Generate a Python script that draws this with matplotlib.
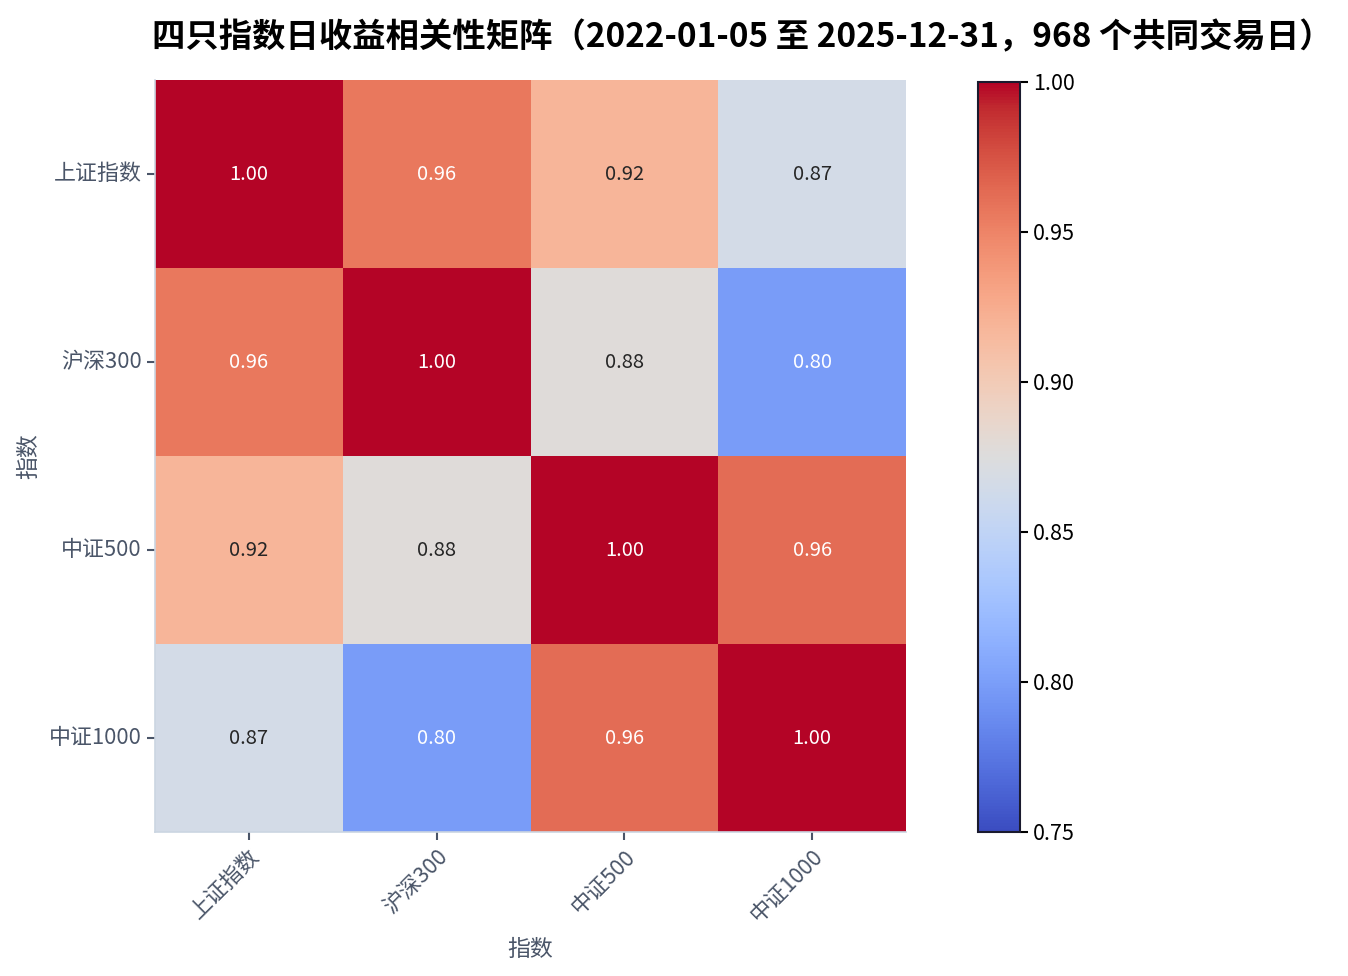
import numpy as np
import matplotlib
matplotlib.use("Agg")
import matplotlib.pyplot as plt
import seaborn as sns

plt.rcParams["font.family"] = ["Noto Sans CJK SC", "DejaVu Sans"]
plt.rcParams["axes.unicode_minus"] = False

names = ["上证指数", "沪深300", "中证500", "中证1000"]
corr = np.array([
    [1.00, 0.957, 0.918, 0.866],
    [0.957, 1.00, 0.877, 0.798],
    [0.918, 0.877, 1.00, 0.962],
    [0.866, 0.798, 0.962, 1.00],
])
title = "四只指数日收益相关性矩阵（2022-01-05 至 2025-12-31，968 个共同交易日）"

fig = plt.figure(figsize=(13.48, 9.76), dpi=100)
ax = fig.add_axes([155 / 1348, 1 - 832 / 976, 751 / 1348, 752 / 976])
cax = fig.add_axes([978 / 1348, 1 - 832 / 976, 42 / 1348, 750 / 976])

sns.heatmap(corr, ax=ax, cbar_ax=cax, cmap="coolwarm", vmin=0.75, vmax=1.0,
            annot=True, fmt=".2f", annot_kws={"size": 14.5},
            xticklabels=names, yticklabels=names)

slate = "#4a5568"
for side in ["left", "bottom"]:
    ax.spines[side].set_visible(True)
    ax.spines[side].set_color("#cbd5e1")
    ax.spines[side].set_linewidth(1.2)
ax.tick_params(axis="both", colors=slate, labelsize=15.8, length=6, width=1.5)
plt.setp(ax.get_xticklabels(), rotation=45, ha="right", rotation_mode="anchor")
plt.setp(ax.get_yticklabels(), rotation=0)
ax.set_xlabel("指数", fontsize=16.5, color=slate, labelpad=8)
ax.set_ylabel("指数", fontsize=16.5, color=slate, labelpad=6)

cax.tick_params(labelsize=15.5, length=6, width=1.5)
cax.set_yticks([0.75, 0.80, 0.85, 0.90, 0.95, 1.00])
cax.set_yticklabels(["0.75", "0.80", "0.85", "0.90", "0.95", "1.00"])
cbar = ax.collections[0].colorbar
cbar.outline.set_visible(True)
cbar.outline.set_edgecolor("#1a1a2e")
cbar.outline.set_linewidth(1.5)

fig.suptitle(title, fontsize=24, fontweight="bold", x=0.551, y=0.979)

fig.savefig("out.png", dpi=100)
